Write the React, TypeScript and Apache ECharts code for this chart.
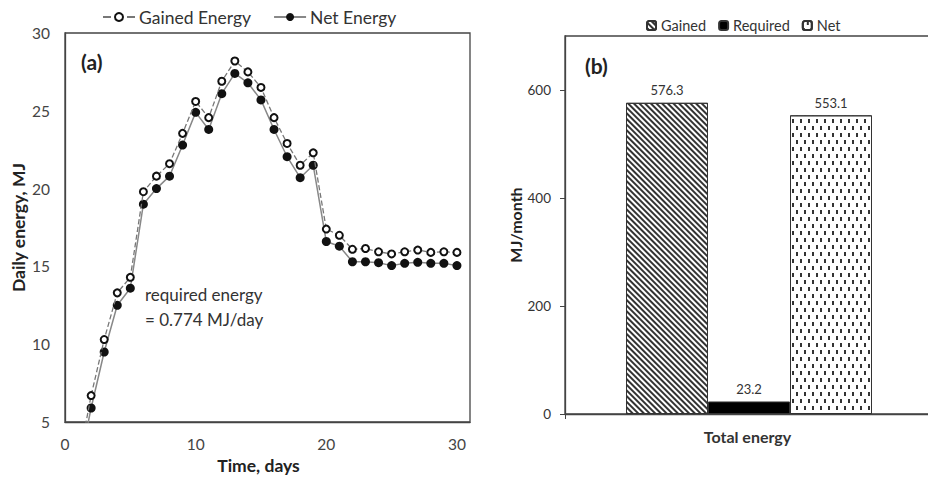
import React, { useEffect, useRef } from "react";
import * as echarts from "echarts";

const days = [1, 2, 3, 4, 5, 6, 7, 8, 9, 10, 11, 12, 13, 14, 15, 16, 17, 18, 19, 20, 21, 22, 23, 24, 25, 26, 27, 28, 29, 30];
const gainedEnergy = [2.3, 6.7, 10.3, 13.3, 14.3, 19.8, 20.8, 21.6, 23.55, 25.6, 24.56, 26.9, 28.2, 27.5, 26.5, 24.56, 22.9, 21.5, 22.3, 17.4, 17.0, 16.1, 16.15, 15.94, 15.8, 15.94, 16.05, 15.9, 15.94, 15.9];
const netEnergy = [1.8, 5.9, 9.5, 12.5, 13.6, 19.0, 20.0, 20.8, 22.8, 24.9, 23.8, 26.1, 27.4, 26.8, 25.7, 23.8, 22.05, 20.7, 21.5, 16.6, 16.3, 15.3, 15.3, 15.24, 15.05, 15.2, 15.26, 15.2, 15.2, 15.05];
const xTicksA = [0, 10, 20, 30];
const yTicksA = [5, 10, 15, 20, 25, 30];

const barCategories = ["Total energy"];
const gainedTotal = [576.3];
const requiredTotal = [23.2];
const netTotal = [553.1];
const yTicksB = [0, 200, 400, 600];

const FONT = "Lato, 'Open Sans', sans-serif";
const CHART_W = 945;

export default function App() {
  const ref = useRef<HTMLDivElement>(null);
  useEffect(() => {
    if (!ref.current) return;
    const chart = echarts.init(ref.current, null, { renderer: "svg" });
    const gainedDecal = {
      symbol: "rect",
      symbolSize: 1,
      color: "#333",
      backgroundColor: "#fff",
      dashArrayX: [1, 0],
      dashArrayY: [1.2, 1.5],
      rotation: Math.PI / 4,
    };
    const netDecal = {
      symbol: "rect",
      symbolSize: 1,
      color: "#333",
      backgroundColor: "#fff",
      dashArrayX: [[1.4, 5.2], [0, 3.3, 1.4, 1.9]],
      dashArrayY: [4, 3],
      rotation: 0,
    };
    chart.setOption({
      animation: false,
      textStyle: { fontFamily: FONT },
      legend: [
        {
          data: ["Gained Energy", "Net Energy"],
          left: 97,
          top: 3,
          itemWidth: 32,
          itemHeight: 10,
          itemGap: 22,
          textStyle: { fontSize: 17.5, color: "#333", fontFamily: FONT, padding: [0, 0, 0, -1] },
        },
        {
          data: ["Gained", "Required", "Net"],
          left: 641,
          top: 13,
          itemWidth: 9,
          itemHeight: 9,
          itemGap: 12,
          textStyle: { fontSize: 14.5, color: "#333", fontFamily: FONT },
        },
      ],
      grid: [
        { left: 65, top: 33, right: CHART_W - 470, bottom: 58, show: true, borderColor: "#444", borderWidth: 1.3, backgroundColor: "#fff" },
        { left: 565, top: 36, right: CHART_W - 933, bottom: 66, show: true, borderColor: "#444", borderWidth: 1.3, backgroundColor: "#fff" },
      ],
      xAxis: [
        {
          type: "value",
          gridIndex: 0,
          min: 0,
          max: 31,
          interval: 10,
          splitLine: { show: false },
          axisLine: { show: true, onZero: false, lineStyle: { color: "#444", width: 1.3 } },
          axisTick: { show: false },
          axisLabel: { customValues: xTicksA, fontSize: 15.5, color: "#444", margin: 14, fontFamily: FONT },
          name: "Time, days",
          nameLocation: "middle",
          nameGap: 34,
          nameTextStyle: { fontSize: 17.5, fontWeight: "bold", color: "#222", fontFamily: FONT, padding: [0, 18, 0, 0] },
        },
        {
          type: "category",
          gridIndex: 1,
          data: barCategories,
          axisLine: { show: true, lineStyle: { color: "#444", width: 1.3 } },
          axisTick: { show: true, length: 5, lineStyle: { color: "#444" } },
          axisLabel: { show: false },
          name: "Total energy",
          nameLocation: "middle",
          nameGap: 14,
          nameTextStyle: { fontSize: 16, fontWeight: "bold", color: "#333", fontFamily: FONT, padding: [0, 3, 0, 0] },
        },
      ],
      yAxis: [
        {
          type: "value",
          gridIndex: 0,
          min: 5,
          max: 30,
          interval: 5,
          splitLine: { show: false },
          axisLine: { show: true, onZero: false, lineStyle: { color: "#444", width: 1.3 } },
          axisTick: { show: false },
          axisLabel: { customValues: yTicksA, fontSize: 15.5, color: "#444", margin: 15, fontFamily: FONT },
          name: "Daily energy, MJ",
          nameLocation: "middle",
          nameGap: 38,
          nameRotate: 90,
          nameTextStyle: { fontSize: 17.5, fontWeight: "bold", color: "#222", fontFamily: FONT },
        },
        {
          type: "value",
          gridIndex: 1,
          min: 0,
          max: 700,
          interval: 200,
          splitLine: { show: false },
          axisLine: { show: true, lineStyle: { color: "#444", width: 1.3 } },
          axisTick: { show: true, length: 5, customValues: yTicksB, lineStyle: { color: "#444" } },
          axisLabel: { customValues: yTicksB, fontSize: 13.5, color: "#333", margin: 14, fontFamily: FONT },
          name: "MJ/month",
          nameLocation: "middle",
          nameGap: 42,
          nameRotate: 90,
          nameTextStyle: { fontSize: 16, fontWeight: "bold", color: "#222", fontFamily: FONT },
        },
      ],
      series: [
        {
          name: "Gained Energy",
          type: "line",
          xAxisIndex: 0,
          yAxisIndex: 0,
          data: days.map((d, i) => [d, gainedEnergy[i]]),
          symbol: "emptyCircle",
          symbolSize: 7,
          clip: true,
          lineStyle: { color: "#777", width: 1.3, type: "dashed" },
          itemStyle: { color: "#111", borderWidth: 2.2, borderColor: "#111" },
          z: 3,
        },
        {
          name: "Net Energy",
          type: "line",
          xAxisIndex: 0,
          yAxisIndex: 0,
          data: days.map((d, i) => [d, netEnergy[i]]),
          symbol: "circle",
          symbolSize: 9,
          clip: true,
          lineStyle: { color: "#888", width: 1.5, type: "solid" },
          itemStyle: { color: "#111" },
          z: 2,
        },
        {
          name: "Gained",
          type: "bar",
          xAxisIndex: 1,
          yAxisIndex: 1,
          data: gainedTotal,
          barWidth: 82,
          barGap: "0%",
          itemStyle: { color: "#fff", borderColor: "#333", borderWidth: 1, decal: gainedDecal },
          label: { show: true, position: "top", distance: 6, fontSize: 13, color: "#333", fontFamily: FONT },
        },
        {
          name: "Required",
          type: "bar",
          xAxisIndex: 1,
          yAxisIndex: 1,
          data: requiredTotal,
          barWidth: 82,
          barGap: "0%",
          itemStyle: { color: "#000", borderColor: "#333", borderWidth: 1 },
          label: { show: true, position: "top", distance: 6, fontSize: 13, color: "#333", fontFamily: FONT },
        },
        {
          name: "Net",
          type: "bar",
          xAxisIndex: 1,
          yAxisIndex: 1,
          data: netTotal,
          barWidth: 82,
          barGap: "0%",
          itemStyle: { color: "#fff", borderColor: "#333", borderWidth: 1, decal: netDecal },
          label: { show: true, position: "top", distance: 6, fontSize: 13, color: "#333", fontFamily: FONT },
        },
      ],
      graphic: [
        {
          type: "text",
          left: 81,
          top: 51,
          style: { text: "(a)", fontSize: 21, fontWeight: "bold", fill: "#222", fontFamily: FONT },
        },
        {
          type: "text",
          left: 585,
          top: 55,
          style: { text: "(b)", fontSize: 21, fontWeight: "bold", fill: "#222", fontFamily: FONT },
        },
        {
          type: "text",
          left: 145,
          top: 282,
          style: {
            text: "required energy\n= 0.774 MJ/day",
            fontSize: 17,
            lineHeight: 25,
            fill: "#333",
            fontFamily: FONT,
          },
        },
      ],
    });
    return () => chart.dispose();
  }, []);
  return (
    <div style={{ position: "fixed", left: 0, top: 0, width: 928, height: 480, overflow: "hidden", background: "#fff" }}>
      <div ref={ref} style={{ width: CHART_W, height: 480 }} />
    </div>
  );
}
